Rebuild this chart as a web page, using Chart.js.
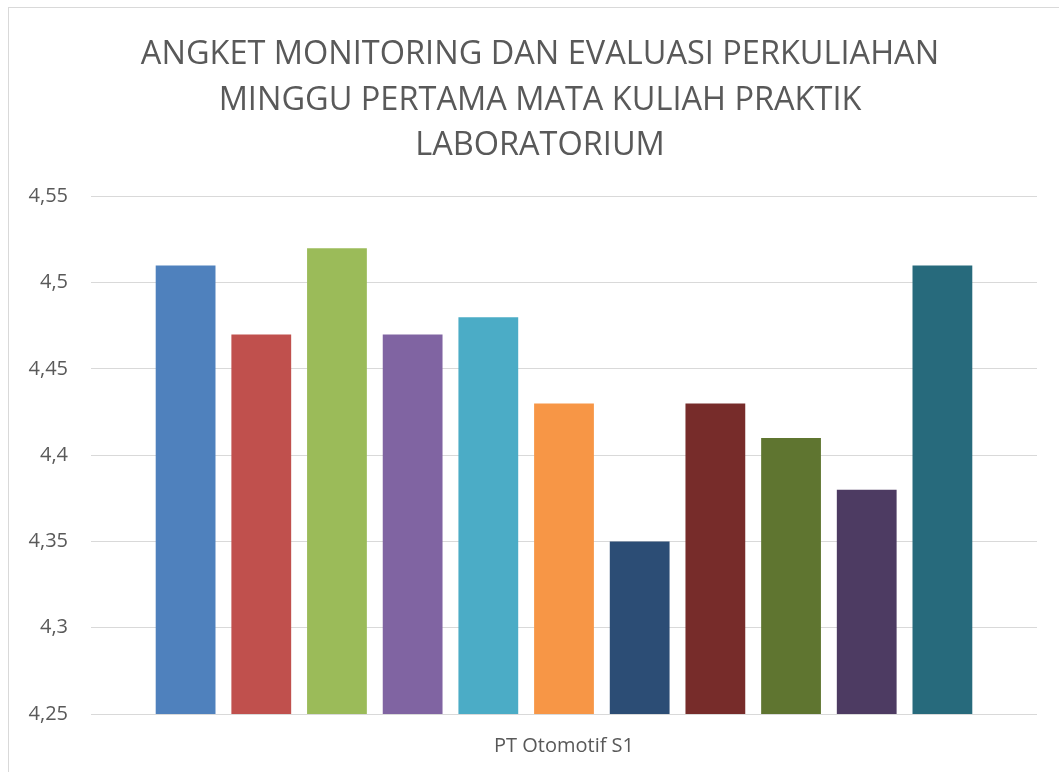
<!DOCTYPE html>
<html>
<head>
<meta charset="utf-8">
<script src="https://cdn.jsdelivr.net/npm/chart.js@4"></script>
<style>
  html, body { margin: 0; padding: 0; background: #fff; overflow: hidden; }
  #frame {
    position: absolute; left: 8px; top: 7px;
    width: 1060px; height: 780px;
    border: 1px solid #d9d9d9; box-sizing: border-box;
  }
</style>
</head>
<body>
<div id="frame"><canvas id="chart"></canvas></div>
<script>
// chart data
const categories = ['PT Otomotif S1'];
const seriesNames = ['1', '2', '3', '4', '5', '6', '7', '8', '9', '10', '11'];
const seriesValues = [4.51, 4.47, 4.52, 4.47, 4.48, 4.43, 4.35, 4.43, 4.41, 4.38, 4.51];
const seriesColors = ['#4F81BD', '#C0504D', '#9BBB59', '#8064A2', '#4BACC6', '#F79646',
                      '#2C4D75', '#772C2A', '#5F7530', '#4D3B62', '#276A7C'];
const yMin = 4.25, yMax = 4.55, yStep = 0.05;
const titleLines = ['ANGKET MONITORING DAN EVALUASI PERKULIAHAN',
                    'MINGGU PERTAMA MATA KULIAH PRAKTIK',
                    'LABORATORIUM'];

const fontFamily = "'Open Sans', 'Noto Sans', sans-serif";
const textColor = '#595959';

// nudge the title block so it is centred like the original
const titleShift = {
    id: 'titleShift',
    afterLayout(chart) {
        if (chart.titleBlock) chart.titleBlock.left = 34;
    }
};

document.addEventListener('DOMContentLoaded', function() {
    const frame = document.getElementById('frame');
    const canvas = document.getElementById('chart');
    canvas.width = frame.clientWidth;
    canvas.height = frame.clientHeight;

    new Chart(canvas, {
        type: 'bar',
        data: {
            labels: categories,
            datasets: seriesValues.map((v, i) => ({
                label: seriesNames[i],
                data: [v],
                backgroundColor: seriesColors[i],
                borderWidth: 0,
                categoryPercentage: 0.88,
                barPercentage: 0.79
            }))
        },
        options: {
            responsive: false,
            animation: false,
            layout: { padding: { top: 24, right: 30, bottom: 8, left: 0 } },
            plugins: {
                legend: { display: false },
                tooltip: { enabled: false },
                title: {
                    display: true,
                    text: titleLines,
                    color: textColor,
                    font: { family: fontFamily, size: 32.5, weight: 'normal', lineHeight: 1.4 },
                    padding: { top: 0, bottom: 28 }
                }
            },
            scales: {
                x: {
                    grid: { display: false, drawTicks: false },
                    border: { display: false },
                    ticks: {
                        color: textColor,
                        padding: 20,
                        font: { family: fontFamily, size: 20 }
                    }
                },
                y: {
                    min: yMin,
                    max: yMax,
                    afterFit: function(scale) { scale.width = 82; },
                    grid: { color: '#d9d9d9', lineWidth: 1, drawTicks: false },
                    border: { display: false },
                    ticks: {
                        stepSize: yStep,
                        color: textColor,
                        padding: 23,
                        font: { family: fontFamily, size: 20 },
                        callback: function(value) {
                            return String(Math.round(value * 100) / 100).replace('.', ',');
                        }
                    }
                }
            }
        },
        plugins: [titleShift]
    });
});
</script>
</body>
</html>
